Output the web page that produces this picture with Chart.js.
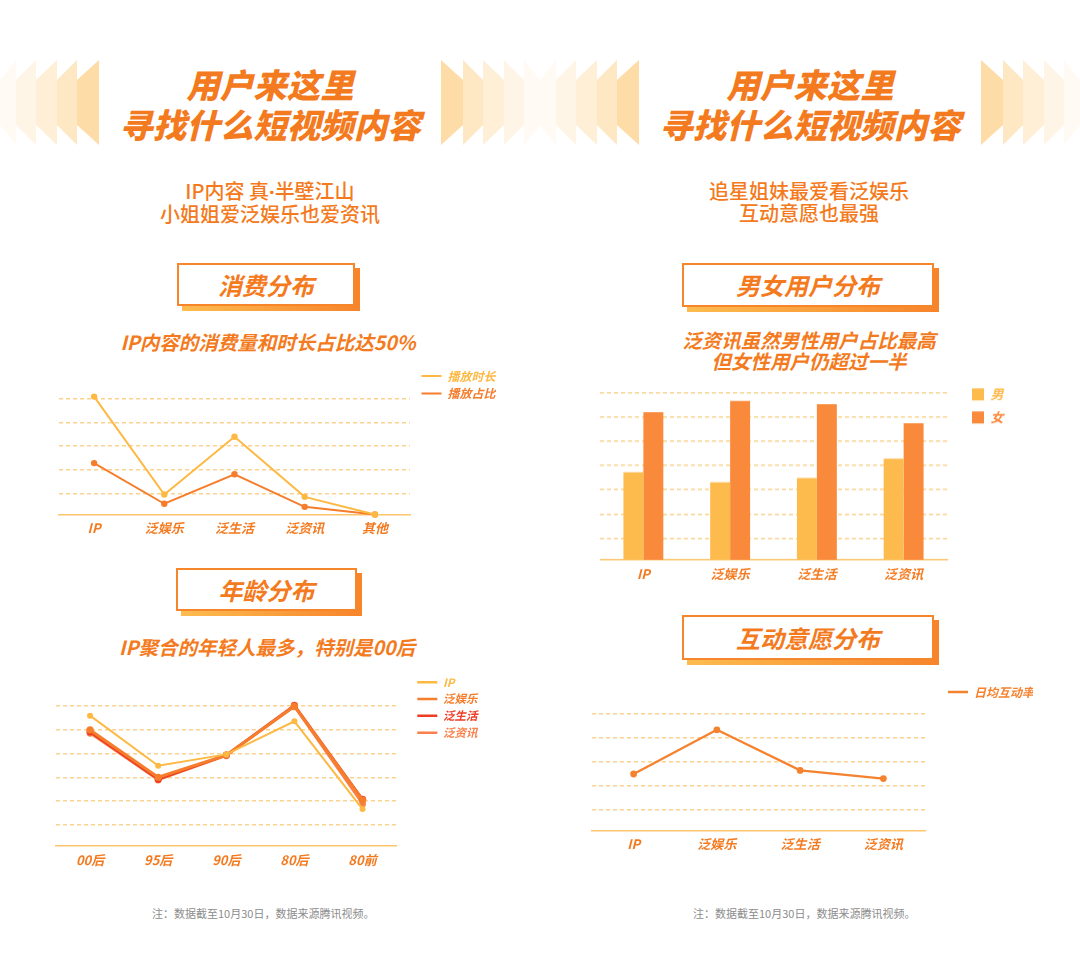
<!DOCTYPE html>
<html lang="zh-CN">
<head>
<meta charset="utf-8">
<title>用户来这里寻找什么短视频内容</title>
<script src="https://cdn.jsdelivr.net/npm/chart.js@4.4.1/dist/chart.umd.min.js"></script>
<style>
  html, body { margin: 0; padding: 0; background: #fff; }
  body {
    width: 1080px; height: 959px; position: relative; overflow: hidden;
    font-family: 'Noto Sans CJK SC', 'Noto Sans', sans-serif; color: #f47a20;
  }
  #deco { position: absolute; left: 0; top: 0; }
  .title {
    position: absolute; top: 64px; width: 540px; text-align: center;
    font-size: 33.5px; line-height: 40px; font-weight: 900; font-style: italic;
  }
  .lead {
    position: absolute; top: 179.5px; width: 540px; text-align: center;
    font-size: 20px; line-height: 22px; font-weight: 500;
  }
  .lead .dot { font-family: 'Noto Sans', sans-serif; font-weight: bold; }
  .sub {
    position: absolute; text-align: center;
    font-size: 19.5px; line-height: 21px; font-weight: bold; font-style: italic;
  }
  .tag { position: absolute; }
  .tag .shadow {
    position: absolute; left: 5px; top: 5px; right: -5px; bottom: -5px;
    background: linear-gradient(90deg, #fdbc50, #f7842b);
  }
  .tag .face {
    position: absolute; left: 0; top: 0; right: 0; bottom: 0; box-sizing: border-box;
    border: 2px solid #f7862b; background: #fff; text-align: center;
    font-size: 24px; font-weight: bold; font-style: italic;
  }
  .note { position: absolute; top: 906px; font-size: 11px; line-height: 14px; color: #8c8c8c; }
  .box { position: absolute; }
</style>
</head>
<body>

<svg id="deco" width="1080" height="160"></svg>

<div class="title" style="left:0">用户来这里<br>寻找什么短视频内容</div>
<div class="title" style="left:540px">用户来这里<br>寻找什么短视频内容</div>

<div class="lead" style="left:0">IP内容 真<span class="dot">·</span>半壁江山<br>小姐姐爱泛娱乐也爱资讯</div>
<div class="lead" style="left:539px">追星姐妹最爱看泛娱乐<br>互动意愿也最强</div>

<div class="tag" style="left:177px;top:263px;width:178px;height:43px">
  <div class="shadow"></div><div class="face" style="line-height:39px">消费分布</div>
</div>
<div class="tag" style="left:176px;top:568px;width:181px;height:43px">
  <div class="shadow"></div><div class="face" style="line-height:39px">年龄分布</div>
</div>
<div class="tag" style="left:682px;top:263px;width:252px;height:44px">
  <div class="shadow"></div><div class="face" style="line-height:40px">男女用户分布</div>
</div>
<div class="tag" style="left:682px;top:615px;width:252px;height:45px">
  <div class="shadow"></div><div class="face" style="line-height:41px">互动意愿分布</div>
</div>

<div class="sub" style="left:0;width:536px;top:331px">IP内容的消费量和时长占比达50%</div>
<div class="sub" style="left:0;width:534px;top:636px">IP聚合的年轻人最多，特别是00后</div>
<div class="sub" style="left:540px;width:538px;top:329px">泛资讯虽然男性用户占比最高<br>但女性用户仍超过一半</div>

<div class="box" style="left:55px;top:360px;width:461px;height:186px"><canvas id="consume"></canvas></div>
<div class="box" style="left:52px;top:666px;width:450px;height:212px"><canvas id="age"></canvas></div>
<div class="box" style="left:600px;top:372px;width:427px;height:219.5px"><canvas id="gender"></canvas></div>
<div class="box" style="left:588px;top:676px;width:465px;height:185.2px"><canvas id="interact"></canvas></div>

<div class="note" style="left:152px">注：数据截至10月30日，数据来源腾讯视频。</div>
<div class="note" style="left:693px">注：数据截至10月30日，数据来源腾讯视频。</div>

<script>
// 消费分布
const consumeCats = ['IP', '泛娱乐', '泛生活', '泛资讯', '其他'];
const playTime = [50.9, 9.7, 34.0, 8.7, 1.3];
const playShare = [22.9, 5.8, 18.2, 4.5, 1.3];

// 年龄分布
const ageCats = ['00后', '95后', '90后', '80后', '80前'];
const ageIP = [56.0, 34.9, 39.7, 53.6, 16.7];
const ageEnt = [50.0, 30.1, 39.4, 60.0, 20.5];
const ageLife = [49.2, 29.2, 39.4, 60.3, 20.8];
const ageNews = [48.6, 28.9, 39.1, 59.7, 18.8];

// 男女用户分布
const genderCats = ['IP', '泛娱乐', '泛生活', '泛资讯'];
const male = [37.2, 33.1, 34.8, 42.8];
const female = [61.9, 66.5, 65.2, 57.3];

// 互动意愿分布
const interactCats = ['IP', '泛娱乐', '泛生活', '泛资讯'];
const interactRate = [2.48, 4.32, 2.63, 2.29];

const YELLOW = '#fdb944';
const ORANGE = '#f57d2c';
const RED = '#ee3d24';
const CORAL = '#f9804c';
const TEXT = '#f47a20';
const GRID = '#fbd38f';
const AXIS = '#fdc56d';

// header stripes
const shades = ['#fffaf3', '#fff5e6', '#ffefd7', '#fee7c3', '#fedca7'];
const edges = [0, 16, 36, 57, 77, 99];
const svg = document.getElementById('deco');
[0, 540].forEach(ox => {
  shades.forEach((c, i) => {
    const a = edges[i], b = edges[i + 1];
    const left = `${ox + b},60 ${ox + a},80 ${ox + a},125 ${ox + b},145`;
    const right = `${ox + 540 - b},60 ${ox + 540 - a},80 ${ox + 540 - a},125 ${ox + 540 - b},145`;
    [left, right].forEach(pts => {
      const p = document.createElementNS('http://www.w3.org/2000/svg', 'polygon');
      p.setAttribute('points', pts);
      p.setAttribute('fill', c);
      svg.appendChild(p);
    });
  });
});

Chart.defaults.font.family = "'Noto Sans CJK SC', 'Noto Sans', sans-serif";
Chart.defaults.animation = false;
Chart.defaults.maintainAspectRatio = false;
Chart.defaults.plugins.tooltip.enabled = false;

function yAxis(min, max, gridTop, step, gap) {
  return {
    position: 'right',
    min: min,
    max: max,
    ticks: { display: false, stepSize: step },
    grid: { color: GRID, lineWidth: 1.5, drawTicks: false },
    border: { display: false, dash: [4, 3] },
    afterBuildTicks: s => {
      s.ticks = s.ticks.filter(t => t.value > min + 1e-6 && t.value <= gridTop + 1e-6);
    },
    afterFit: s => { s.width = gap; }
  };
}

function xAxis(pad) {
  return {
    offset: true,
    grid: { display: false, drawTicks: false },
    border: { display: true, color: AXIS, width: 1.5 },
    ticks: {
      color: TEXT, padding: pad, maxRotation: 0, autoSkip: false,
      font: { size: 13, weight: 'bold', style: 'italic' }
    }
  };
}

function legend(pad, boxW, boxH, size, maxWidth) {
  return {
    position: 'right',
    align: 'start',
    maxWidth: maxWidth,
    labels: {
      boxWidth: boxW,
      boxHeight: boxH,
      padding: pad,
      font: { size: size, weight: 'bold', style: 'italic' },
      generateLabels: chart => chart.data.datasets.map((ds, i) => ({
        text: ds.label,
        fillStyle: ds.backgroundColor,
        strokeStyle: ds.backgroundColor,
        fontColor: ds.backgroundColor,
        lineWidth: 0,
        hidden: false,
        datasetIndex: i
      }))
    }
  };
}

function line(label, data, color, width, radius) {
  return {
    label: label,
    data: data,
    borderColor: color,
    backgroundColor: color,
    borderWidth: width,
    pointRadius: radius,
    pointBorderWidth: 0,
    tension: 0,
    clip: false
  };
}

new Chart(document.getElementById('consume'), {
  type: 'line',
  data: {
    labels: consumeCats,
    datasets: [
      line('播放时长', playTime, YELLOW, 2, 3.2),
      line('播放占比', playShare, ORANGE, 2, 3.2)
    ]
  },
  options: {
    layout: { padding: { top: 4.5, right: 20, bottom: 4, left: 0 } },
    plugins: { legend: legend(5.5, 20, 2, 12, 80) },
    scales: { x: xAxis(6), y: yAxis(1.32, 64.4, 60, 10, 6) }
  }
});

new Chart(document.getElementById('age'), {
  type: 'line',
  data: {
    labels: ageCats,
    datasets: [
      line('IP', ageIP, YELLOW, 2, 3),
      line('泛娱乐', ageEnt, ORANGE, 3, 3.6),
      line('泛生活', ageLife, RED, 2.6, 3.6),
      line('泛资讯', ageNews, CORAL, 2.2, 3.4)
    ]
  },
  options: {
    layout: { padding: { top: 5.2, right: 20, bottom: 4.4, left: 0 } },
    plugins: { legend: legend(5.3, 20, 2.5, 11.5, 70) },
    scales: { x: xAxis(6), y: yAxis(1.17, 74.7, 70, 10, 15.4) }
  }
});

new Chart(document.getElementById('gender'), {
  type: 'bar',
  data: {
    labels: genderCats,
    datasets: [
      { label: '男', data: male, backgroundColor: '#fdbb4e', categoryPercentage: 0.46, barPercentage: 1 },
      { label: '女', data: female, backgroundColor: '#fa8a3b', categoryPercentage: 0.46, barPercentage: 1 }
    ]
  },
  options: {
    layout: { padding: { top: 5.8, right: 20, bottom: 3.9, left: 0 } },
    plugins: { legend: legend(10, 12, 12, 13, 45) },
    scales: { x: xAxis(6.5), y: yAxis(1.2, 76, 70, 10, 15) }
  }
});

new Chart(document.getElementById('interact'), {
  type: 'line',
  data: {
    labels: interactCats,
    datasets: [
      line('日均互动率', interactRate, '#f5822f', 2.4, 3.4)
    ]
  },
  options: {
    layout: { padding: { top: 5, right: 20, bottom: 4, left: 0 } },
    plugins: { legend: legend(5, 20, 2.5, 12, 90) },
    scales: { x: xAxis(5.2), y: yAxis(0.1, 6.35, 5, 1, 18) }
  }
});
</script>
</body>
</html>
